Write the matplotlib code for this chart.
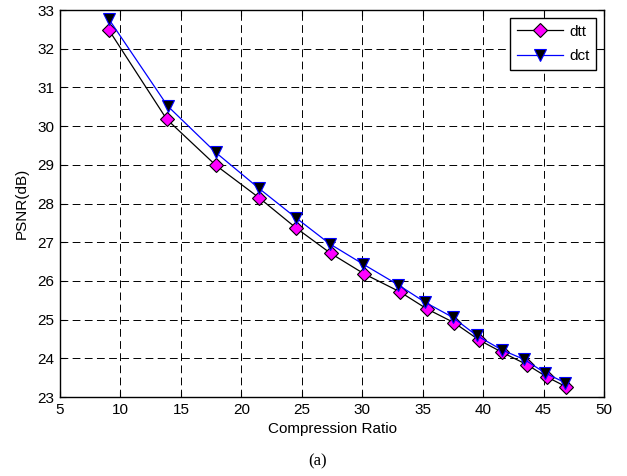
import matplotlib
matplotlib.use("Agg")
import matplotlib.pyplot as plt

# compression ratio vs PSNR
dtt_x = [9.05, 13.82, 17.88, 21.46, 24.52, 27.4, 30.17, 33.1, 35.33, 37.6, 39.68, 41.6, 43.66, 45.26, 46.83]
dtt_y = [32.48, 30.18, 28.99, 28.15, 27.37, 26.71, 26.18, 25.72, 25.28, 24.92, 24.47, 24.15, 23.83, 23.52, 23.27]
dct_x = [9.05, 13.9, 17.88, 21.46, 24.52, 27.3, 30.09, 32.96, 35.19, 37.48, 39.46, 41.53, 43.4, 45.14, 46.77]
dct_y = [32.76, 30.52, 29.32, 28.39, 27.63, 26.96, 26.43, 25.9, 25.45, 25.06, 24.59, 24.22, 23.97, 23.62, 23.37]

x_ticks = [5, 10, 15, 20, 25, 30, 35, 40, 45, 50]
y_ticks = [23, 24, 25, 26, 27, 28, 29, 30, 31, 32, 33]

plt.rcParams['font.family'] = ['Liberation Sans', 'DejaVu Sans']

fig = plt.figure(figsize=(6.27, 4.76), dpi=100)
ax = fig.add_axes([60 / 627, 1 - 397 / 476, 544 / 627, 387 / 476])

ax.plot(dtt_x, dtt_y, '-', color='black', lw=0.9, marker='D', markersize=7,
        markerfacecolor='#ff00ff', markeredgecolor='black', markeredgewidth=0.8, label='dtt', zorder=3)
ax.plot(dct_x, dct_y, '-', color='blue', lw=0.9, marker='v', markersize=9,
        markerfacecolor='black', markeredgecolor='blue', markeredgewidth=0.8, label='dct', zorder=4)

ax.set_xlim(5, 50)
ax.set_ylim(23, 33)
ax.set_xticks(x_ticks)
ax.set_yticks(y_ticks)
ax.tick_params(direction='in', top=True, right=True, labelsize=11, length=4, width=0.8, pad=4)
ax.grid(True, color='black', linestyle=(0, (8, 4.5)), linewidth=0.7)
for s in ax.spines.values():
    s.set_linewidth(1.0)

ax.set_xlabel('Compression Ratio', fontsize=11, labelpad=4)
ax.set_ylabel('PSNR(dB)', fontsize=11, labelpad=6)

leg = ax.legend(loc='upper right', fontsize=11, fancybox=False, framealpha=1,
                edgecolor='black', borderaxespad=0.5, handlelength=3.0,
                labelspacing=0.7, handletextpad=0.4, borderpad=0.45)
leg.get_frame().set_linewidth(1.0)

fig.text(318 / 627, 1 - 461 / 476, '(a)', ha='center', va='center',
         fontsize=12, family='Liberation Serif')

fig.savefig('out.png', dpi=100)
